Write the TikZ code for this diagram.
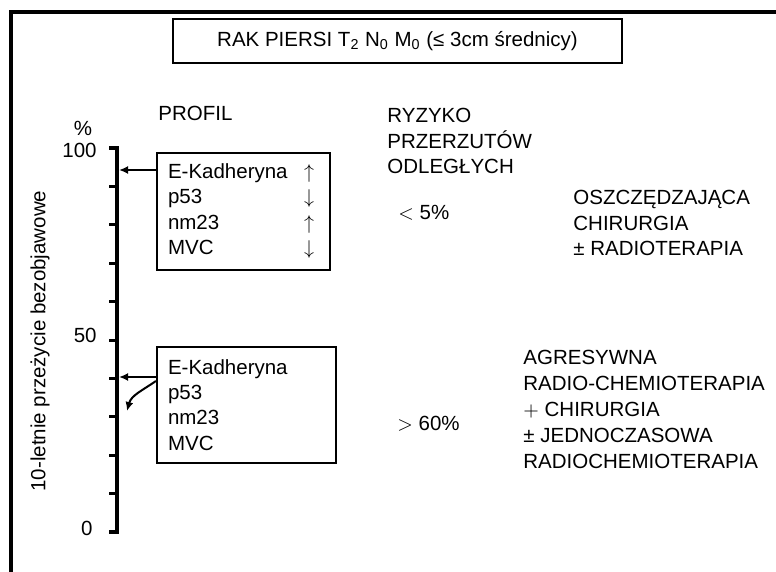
\documentclass[tikz,border=0pt]{standalone}
\usepackage{fontspec}
\setmainfont{Liberation Sans}
\usetikzlibrary{arrows.meta,positioning}
\tikzset{
  box/.style={draw,line width=1.1pt,align=left,inner xsep=5.5pt,inner ysep=0pt},
  lbl/.style={align=left,inner sep=0pt,anchor=west},
  ptr/.style={-{Latex[length=4.5pt,width=4pt]},line width=1pt},
}

\begin{document}
\begin{tikzpicture}[x=0.5pt,y=-0.5pt,font=\fontsize{10.25}{12.6}\selectfont]
\useasboundingbox (0,0) rectangle (776,572);
\draw[line width=1.7pt] (11,572)--(11,12)--(776,12);
\node[draw,line width=1.1pt,minimum width=224.5pt,minimum height=22pt] (title) at (397.5,41)
  {RAK PIERSI T\textsubscript{2} N\textsubscript{0} M\textsubscript{0} (≤ 3cm średnicy)};
% axis
\draw[line width=2pt] (109,148)--(117,148)--(117,532)--(109,532);
\foreach \y in {1,...,9} {\draw[line width=1.5pt] (117,148+38.4*\y)--(109,148+38.4*\y);}
\foreach \x/\y/\lab in {97/150/100,97/335/50,93/528/0} {\node[anchor=east,inner sep=0pt] at (\x,\y) {\lab};}
\node (pct) at (83,128) {\%};
\node[rotate=90] (ylab) at (40,341) {10-letnie przeżycie bezobjawowe};
% profiles
\node[anchor=west,inner sep=0pt] (profil) at (158,113) {PROFIL};
\node[box,minimum width=86.5pt,minimum height=58.5pt,text width=75.5pt] (box1) at (243.5,211.5)
  {\begin{tabular}{@{}p{68pt}@{}c@{}}
   E-Kadheryna & $\uparrow$\\ p53 & $\downarrow$\\ nm23 & $\uparrow$\\ MVC & $\downarrow$
   \end{tabular}};
\node[box,minimum width=89.5pt,minimum height=58pt,text width=78.5pt] (box2) at (246.5,405)
  {E-Kadheryna\\p53\\nm23\\MVC};
\coordinate (a1) at (119,170);
\coordinate (a2) at (119,377);
\coordinate (a3) at (127,411);
\draw[ptr] (box1.west |- a1) -- (a1);
\draw[ptr] (box2.west |- a2) -- (a2);
\draw[ptr] (box2.west |- 0,381) to[out=215,in=75] (a3);
% risk and therapy
\node[lbl] (ryzyko) at (387,141) {RYZYKO\\PRZERZUTÓW\\ODLEGŁYCH};
\node[lbl] (low) at (398,213) {$<$ 5\%};
\node[lbl] (high) at (397,424) {$>$ 60\%};
\node[lbl] (therapy1) at (573,223) {OSZCZĘDZAJĄCA\\CHIRURGIA\\± RADIOTERAPIA};
\node[lbl,font=\fontsize{10.25}{13}\selectfont] (therapy2) at (523,409)
  {AGRESYWNA\\RADIO-CHEMIOTERAPIA\\$+$ CHIRURGIA\\± JEDNOCZASOWA\\RADIOCHEMIOTERAPIA};
\end{tikzpicture}
\end{document}
